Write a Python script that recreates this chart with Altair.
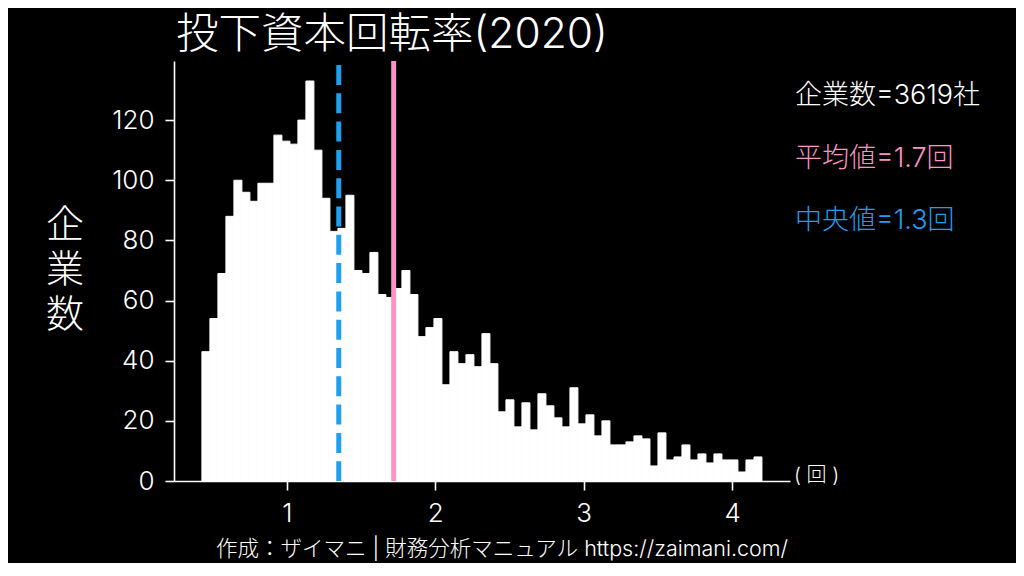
import altair as alt
import pandas as pd

# ---- data ----
counts = [43, 54, 69, 88, 100, 96, 93, 99, 99, 115,
          113, 112, 120, 133, 110, 94, 83, 84, 95, 70,
          69, 76, 62, 61, 64, 70, 62, 48, 51, 54,
          32, 43, 39, 42, 38, 49, 39, 23, 27, 18,
          26, 17, 29, 25, 21, 18, 31, 19, 22, 15,
          20, 12, 12, 13, 15, 14, 5, 16, 7, 8,
          12, 7, 9, 6, 9, 7, 7, 3, 7, 8]
bin_start = 0.428
bin_width = 0.0539
n_companies = 3619
mean_value = 1.72
median_value = 1.35
mean_label = "1.7"
median_label = "1.3"
x_ticks = [1, 2, 3, 4]
y_ticks = [0, 20, 40, 60, 80, 100, 120]
title_text = "投下資本回転率(2020)"
y_title = "企\n業\n数"
unit_text = "( 回 )"
footer_text = "作成：ザイマニ | 財務分析マニュアル https://zaimani.com/"

FONT = "Inter, Noto Sans CJK JP"
PINK = "#fc93c3"
BLUE = "#1f9ff0"
WEIGHT = 300

lefts = [bin_start + i * bin_width for i in range(len(counts))]
df = pd.DataFrame({
    "left": lefts,
    "right": [l + bin_width for l in lefts],
    "count": counts,
    "zero": [0] * len(counts),
})

x_scale = alt.Scale(domain=[0.24, 4.39], nice=False, zero=False)
y_scale = alt.Scale(domain=[0, 139.65], nice=False)

axis_style = dict(
    title=None, grid=False, labelFontSize=26, labelColor="white", labelFont=FONT,
    labelFontWeight=WEIGHT,
    domainColor="white", tickColor="white", domainWidth=1.6, tickWidth=1.6, tickSize=9,
)

bars = alt.Chart(df).mark_rect(color="white", stroke="white", strokeWidth=1).encode(
    x=alt.X("left:Q", scale=x_scale,
            axis=alt.Axis(values=x_ticks, format="d", labelPadding=10, **axis_style)),
    x2="right:Q",
    y=alt.Y("count:Q", scale=y_scale,
            axis=alt.Axis(values=y_ticks, format="d", labelPadding=11, **axis_style)),
    y2="zero:Q",
)

median_rule = alt.Chart(pd.DataFrame({"v": [median_value]})).mark_rule(
    color=BLUE, strokeWidth=5, strokeDash=[20, 8.3], strokeDashOffset=24.3
).encode(x=alt.X("v:Q", scale=x_scale))

mean_rule = alt.Chart(pd.DataFrame({"v": [mean_value]})).mark_rule(
    color=PINK, strokeWidth=5
).encode(x=alt.X("v:Q", scale=x_scale))

def label(text, x, y, size, color="white", align="left", baseline="alphabetic", **kw):
    return alt.Chart(pd.DataFrame({"t": [text]})).mark_text(
        font=FONT, fontSize=size, color=color, align=align, baseline=baseline,
        fontWeight=WEIGHT, **kw
    ).encode(text="t:N", x=alt.value(x), y=alt.value(y))

title = label(title_text, 2, -13, 42.5)
ylab = label(y_title, -109, 176, 38, align="center", lineBreak="\n", lineHeight=45)
n_txt = label(f"企業数={n_companies}社", 621, 43, 27)
mean_txt = label(f"平均値={mean_label}回", 621, 106, 27, color=PINK)
median_txt = label(f"中央値={median_label}回", 621, 168, 27, color=BLUE)
unit = label(unit_text, 620, 421, 20)
footer = label(footer_text, 328, 495, 21.5, align="center")

chart = alt.layer(
    bars, median_rule, mean_rule, title, ylab, n_txt, mean_txt, median_txt, unit, footer
).properties(
    width=616, height=420,
    padding={"left": 166, "top": 53, "right": 226, "bottom": 82},
    autosize=alt.AutoSizeParams(type="none"),
).configure(background="black", font=FONT).configure_view(strokeWidth=0)

chart.save("out.html", embed_options={"renderer": "svg", "actions": False})
